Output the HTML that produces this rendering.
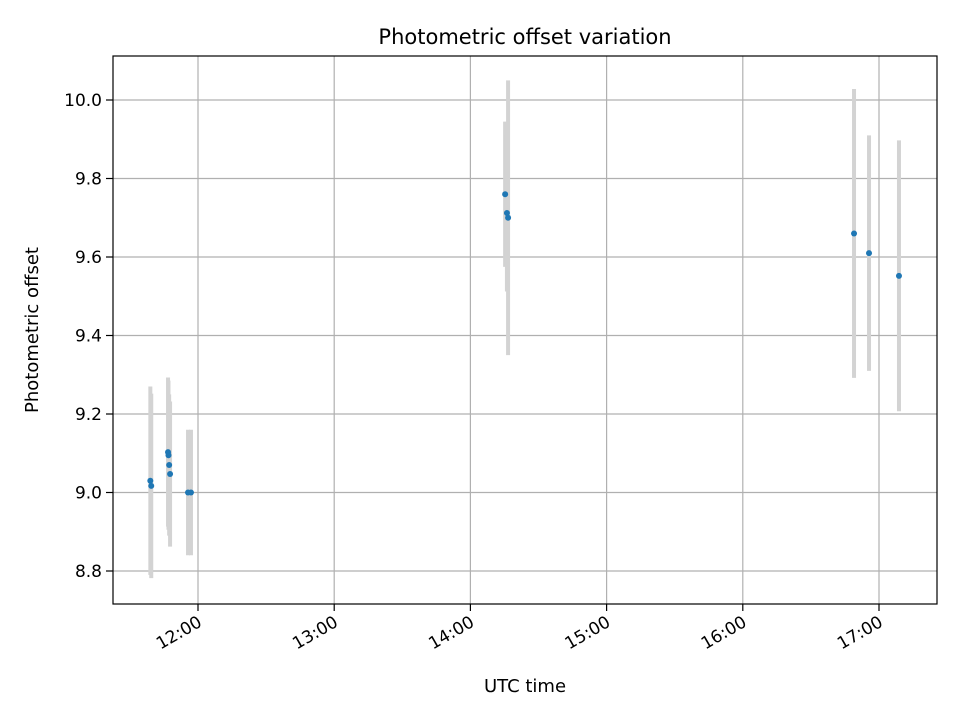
<!DOCTYPE html>
<html><head><meta charset="utf-8"><style>
body{margin:0;background:#fff}
svg{display:block;font-family:"DejaVu Sans","Liberation Sans",sans-serif}
</style></head><body>
<svg width="960" height="720">
<rect width="960" height="720" fill="#fff"/>
<g id="grid"></g>
<g id="bars"></g>
<g id="pts"></g>
<rect x="113" y="56" width="824" height="548" fill="none" stroke="#000" stroke-width="1.2"/>
<g id="ticks"></g>
<text x="525" y="44" text-anchor="middle" font-size="21">Photometric offset variation</text>
<text x="525" y="692" text-anchor="middle" font-size="18">UTC time</text>
<text transform="translate(38,330) rotate(-90)" text-anchor="middle" font-size="18">Photometric offset</text>
</svg>
<script>
// time in minutes after midnight UTC
const times=[699.0,699.4,706.8,707.0,707.3,707.7,715.6,716.9,855.3,856.1,856.6,1009.0,1015.6,1028.8];
const offsets=[9.03,9.017,9.103,9.095,9.07,9.047,9.0,9.0,9.76,9.712,9.70,9.66,9.61,9.552];
const errors=[0.24,0.235,0.19,0.19,0.18,0.185,0.16,0.16,0.185,0.2,0.35,0.368,0.3,0.345];
const xTickMinutes=[720,780,840,900,960,1020];
const xTickLabels=["12:00","13:00","14:00","15:00","16:00","17:00"];
const yTicks=[8.8,9.0,9.2,9.4,9.6,9.8,10.0];

const NS="http://www.w3.org/2000/svg";
const X=m=>198+(m-720)*136.2/60;
const Y=v=>100+(10-v)/0.2*78.5;
function mk(tag,attrs,parent){const e=document.createElementNS(NS,tag);for(const k in attrs)e.setAttribute(k,attrs[k]);parent.appendChild(e);return e;}
const grid=document.getElementById('grid'),bars=document.getElementById('bars'),pts=document.getElementById('pts'),ticks=document.getElementById('ticks');
xTickMinutes.forEach((m,i)=>{
  const x=X(m);
  const g=mk('line',{x1:x,x2:x,y1:56,y2:604,stroke:'#b0b0b0','stroke-width':1.2},grid);
  
  
  const t=mk('line',{x1:x,x2:x,y1:604,y2:611,stroke:'#000','stroke-width':1.2},ticks);
  
  
  const l=mk('text',{transform:`translate(${x-1},${615}) rotate(-30)`,'text-anchor':'end','font-size':17,dy:'0.7em'},ticks);
  l.textContent=xTickLabels[i];
  
  
});
yTicks.forEach(v=>{
  const y=Y(v);
  const g=mk('line',{x1:113,x2:937,y1:y,y2:y,stroke:'#b0b0b0','stroke-width':1.2},grid);
  
  
  const t=mk('line',{x1:106,x2:113,y1:y,y2:y,stroke:'#000','stroke-width':1.2},ticks);
  
  
  const l=mk('text',{x:102,y:y+6,'text-anchor':'end','font-size':17},ticks);
  l.textContent=v.toFixed(1);
  
  
});
times.forEach((m,i)=>{
  const x=X(m);
  const b=mk('line',{x1:x,x2:x,y1:Y(offsets[i]+errors[i]),y2:Y(offsets[i]-errors[i]),stroke:'#d3d3d3','stroke-width':4},bars);
  
  
});
times.forEach((m,i)=>{
  const c=mk('circle',{cx:X(m),cy:Y(offsets[i]),r:3,fill:'#1f77b4'},pts);
  
  
});
</script>
</body></html>
